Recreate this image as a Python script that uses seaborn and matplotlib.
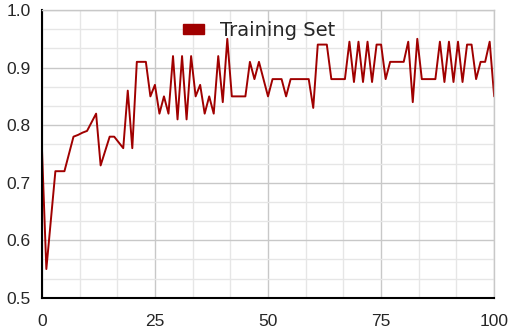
import matplotlib
matplotlib.use("Agg")
import matplotlib.pyplot as plt
from matplotlib.patches import Patch
from matplotlib.ticker import MultipleLocator, AutoMinorLocator
import seaborn as sns
import pandas as pd

sns.set_style("white")
plt.rcParams['font.family'] = ['Liberation Sans', 'DejaVu Sans']

# accuracy per epoch
epochs = list(range(101))
accuracy = [
    0.765, 0.55, 0.635, 0.72, 0.72, 0.72, 0.75, 0.78, 0.783, 0.787,
    0.79, 0.805, 0.82, 0.73, 0.755, 0.78, 0.78, 0.77, 0.76, 0.86,
    0.76, 0.91, 0.91, 0.91, 0.85, 0.87, 0.82, 0.85, 0.82, 0.92,
    0.81, 0.92, 0.81, 0.92, 0.85, 0.87, 0.82, 0.85, 0.82, 0.92,
    0.84, 0.95, 0.85, 0.85, 0.85, 0.85, 0.91, 0.88, 0.91, 0.88,
    0.85, 0.88, 0.88, 0.88, 0.85, 0.88, 0.88, 0.88, 0.88, 0.88,
    0.83, 0.94, 0.94, 0.94, 0.88, 0.88, 0.88, 0.88, 0.945, 0.875,
    0.945, 0.875, 0.945, 0.875, 0.94, 0.94, 0.88, 0.91, 0.91, 0.91,
    0.91, 0.945, 0.84, 0.95, 0.88, 0.88, 0.88, 0.88, 0.945, 0.875,
    0.945, 0.875, 0.945, 0.875, 0.94, 0.94, 0.88, 0.91, 0.91, 0.945,
    0.85,
]
series_label = "Training Set"
line_color = "#a00000"

df = pd.DataFrame({"epoch": epochs, "accuracy": accuracy})

fig = plt.figure(figsize=(5.1, 3.35), dpi=100)
ax = fig.add_axes([0.082, 0.111, 0.887, 0.859])

sns.lineplot(data=df, x="epoch", y="accuracy", color=line_color, linewidth=1.4, ax=ax)

ax.set_xlim(0, 100)
ax.set_ylim(0.5, 1.0)
ax.xaxis.set_major_locator(MultipleLocator(25))
ax.xaxis.set_minor_locator(AutoMinorLocator(3))
ax.yaxis.set_major_locator(MultipleLocator(0.1))
ax.yaxis.set_minor_locator(AutoMinorLocator(3))
ax.yaxis.set_major_formatter(matplotlib.ticker.FormatStrFormatter("%.1f"))

ax.grid(which="major", color="#c8c8c8", linewidth=1.0)
ax.grid(which="minor", color="#e6e6e6", linewidth=1.0)
ax.set_axisbelow(True)

for side in ["top", "right"]:
    ax.spines[side].set_color("#c8c8c8")
    ax.spines[side].set_linewidth(1.0)
for side in ["left", "bottom"]:
    ax.spines[side].set_color("black")
    ax.spines[side].set_linewidth(1.5)

ax.tick_params(which="major", direction="inout", length=12, width=1.3, color="black",
               labelsize=12.5, pad=2)
ax.tick_params(which="minor", direction="inout", length=6, width=1.1, color="black")
ax.tick_params(axis="x", which="major", pad=6)
ax.set_xlabel("")
ax.set_ylabel("")

handle = Patch(facecolor=line_color, edgecolor=line_color)
ax.legend([handle], [series_label], loc="center", bbox_to_anchor=(0.48, 0.93),
          frameon=False, handlelength=1.1, handleheight=0.45, handletextpad=0.8,
          prop={"family": ["DejaVu Sans"], "size": 14})

fig.savefig("out.png", dpi=100)
